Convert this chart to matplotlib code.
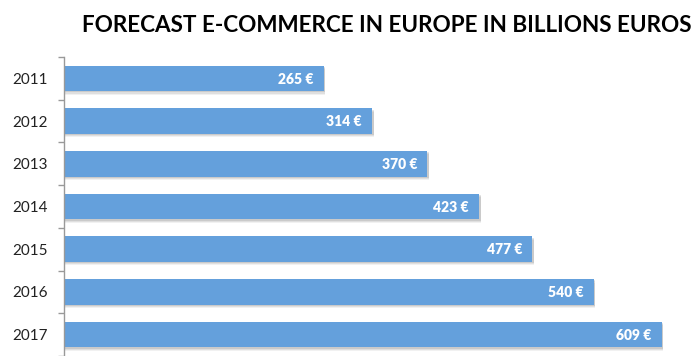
import matplotlib
matplotlib.use("Agg")
import matplotlib.pyplot as plt

# forecast values, billions of euros
years = ["2011", "2012", "2013", "2014", "2015", "2016", "2017"]
sales = [265, 314, 370, 423, 477, 540, 609]
value_labels = ["265 €", "314 €", "370 €", "423 €", "477 €", "540 €", "609 €"]

BAR_BLUE = "#64A0DC"
FONT = ["Lato", "DejaVu Sans"]

fig = plt.figure(figsize=(6.91, 3.56), dpi=100)
ax = fig.add_axes([64 / 691, 0, 627 / 691, 299 / 356])

pos = list(range(len(years)))

# soft drop shadow under each bar
for off, alpha in [(0.08, 0.08), (0.055, 0.11), (0.03, 0.15)]:
    ax.barh([p + off for p in pos], [s + 1.2 for s in sales], height=0.6,
            color="#555555", alpha=alpha, linewidth=0, zorder=1)

ax.barh(pos, sales, height=0.6, color=BAR_BLUE, linewidth=0, zorder=2)

for p, s, lab in zip(pos, sales, value_labels):
    ax.annotate(lab, (s, p), xytext=(-7.5, -0.5), textcoords="offset points",
                ha="right", va="center", color="white", fontsize=10,
                fontweight="heavy", family=FONT, zorder=3)

ax.set_xlim(0, 638.5)
ax.set_ylim(6.385, -0.5)
ax.set_xticks([])
ax.set_yticks(pos)
ax.set_yticklabels(years, family=FONT, fontsize=11, color="#222222")
ax.set_yticks([p + 0.5 for p in range(-1, len(years))], minor=True)
ax.tick_params(axis="y", which="major", length=0, pad=12)
ax.tick_params(axis="y", which="minor", length=4, width=1, color="#999999")

for side in ["top", "right", "bottom"]:
    ax.spines[side].set_visible(False)
ax.spines["left"].set_color("#999999")
ax.spines["left"].set_linewidth(1)

fig.text(387 / 691, 1 - 25 / 356, "FORECAST E-COMMERCE IN EUROPE IN BILLIONS EUROS",
         ha="center", va="center", fontsize=16.2, fontweight="bold",
         family=FONT, color="black")

fig.savefig("out.png", dpi=100)
